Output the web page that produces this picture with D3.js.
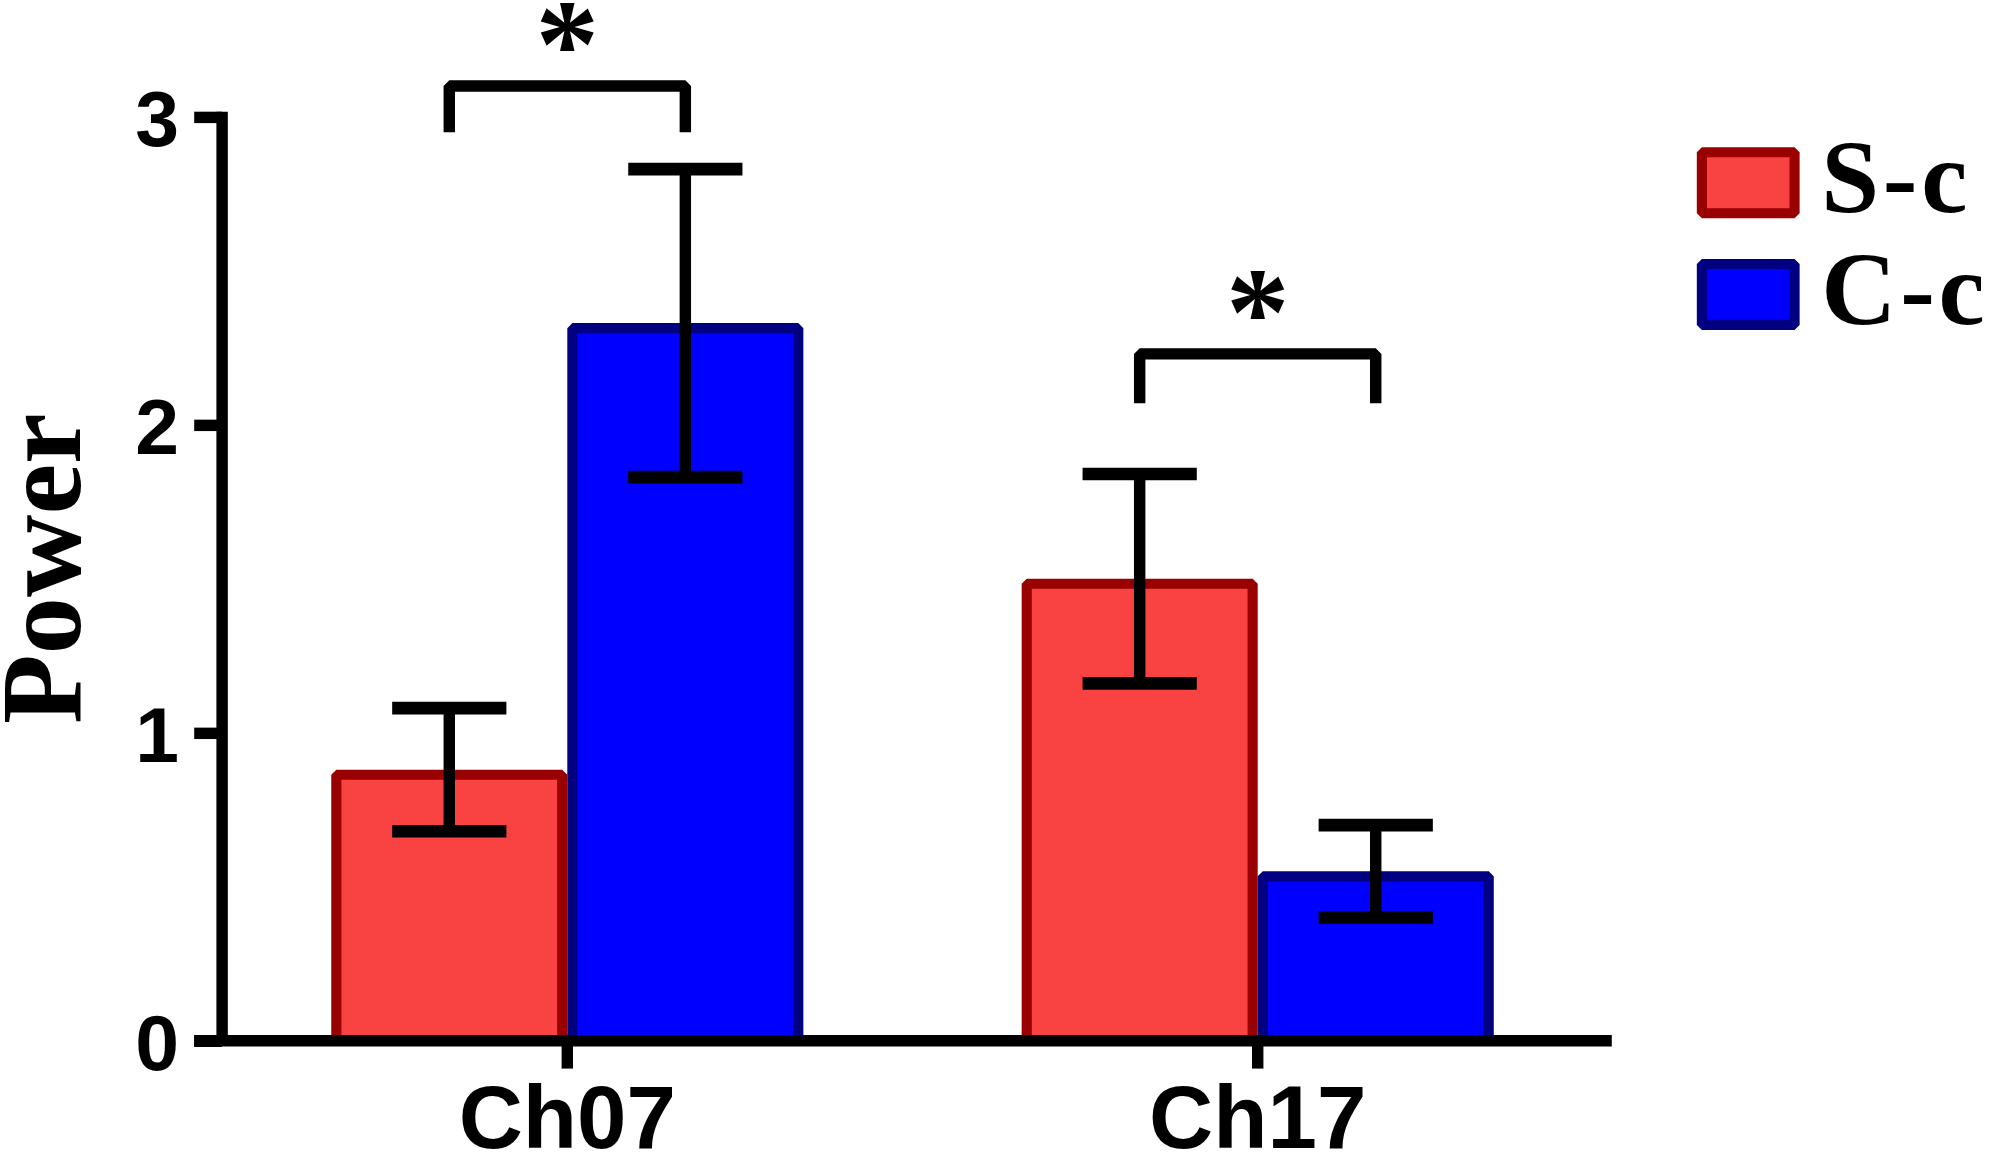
<!DOCTYPE html>
<html>
<head>
<meta charset="utf-8">
<script src="https://cdn.jsdelivr.net/npm/d3@7"></script>
<style>
  body { margin: 0; background: #fff; }
  svg { display: block; }
</style>
</head>
<body>
<div id="chart"></div>
<script>
const categories = ["Ch07", "Ch17"];
const series = ["S-c", "C-c"];
const sc = [0.88, 1.50];
const cc = [2.33, 0.55];
const scErr = [0.20, 0.34];
const ccErr = [0.50, 0.15];
const yTicks = [0, 1, 2, 3];
// significance brackets: category, bracket height, leg bottom
const sigCats = ["Ch07", "Ch17"];
const sigTop = [3.10, 2.23];
const sigLeg = [2.95, 2.07];
const sigLabel = ["*", "*"];

const fills = { "S-c": "#f94343", "C-c": "#0000ff" };
const strokes = { "S-c": "#990000", "C-c": "#000080" };

const W = 1568, H = 915.6;
const svg = d3.select("#chart").append("svg")
  .attr("width", 1990)
  .attr("height", 1162)
  .attr("viewBox", `0 0 ${W} ${H}`);

const y = d3.scaleLinear().domain([0, 3]).range([820, 92]);
const x0 = d3.scaleBand().domain(categories).range([175, 1263]);
const barW = 186;
const x1 = d3.scaleBand().domain(series).range([-barW, barW]);

const rows = [];
categories.forEach((c, i) => {
  rows.push({ cat: c, s: "S-c", v: sc[i], e: scErr[i] });
  rows.push({ cat: c, s: "C-c", v: cc[i], e: ccErr[i] });
});
const cx = (d) => x0(d.cat) + x0.bandwidth() / 2 + x1(d.s) + x1.bandwidth() / 2;

// bars
const sw = 8;
svg.append("g").selectAll("rect")
  .data(rows)
  .enter()
  .append("rect")
  .attr("x", (d) => x0(d.cat) + x0.bandwidth() / 2 + x1(d.s) + sw / 2)
  .attr("y", (d) => y(d.v) + sw / 2)
  .attr("width", x1.bandwidth() - sw)
  .attr("height", (d) => y(0) - y(d.v) - sw / 2)
  .attr("fill", (d) => fills[d.s])
  .attr("stroke", (d) => strokes[d.s])
  .attr("stroke-width", sw)
  .attr("stroke-linejoin", "bevel");

// error bars
const eb = svg.append("g").attr("stroke", "#000");
eb.selectAll(".whisker")
  .data(rows)
  .enter()
  .append("line")
  .attr("x1", cx).attr("x2", cx)
  .attr("y1", (d) => y(d.v + d.e))
  .attr("y2", (d) => y(d.v - d.e))
  .attr("stroke-width", 9);
eb.selectAll(".cap")
  .data(rows.flatMap((d) => [{ d, v: d.v + d.e }, { d, v: d.v - d.e }]))
  .enter()
  .append("line")
  .attr("x1", (o) => cx(o.d) - 45).attr("x2", (o) => cx(o.d) + 45)
  .attr("y1", (o) => y(o.v)).attr("y2", (o) => y(o.v))
  .attr("stroke-width", 10);

// y axis
const yAxis = svg.append("g")
  .attr("transform", "translate(175,0)")
  .call(d3.axisLeft(y).tickValues(yTicks).tickSize(22).tickSizeOuter(0).tickPadding(12).tickFormat(d3.format("d")));
yAxis.select(".domain").attr("stroke", "#000").attr("stroke-width", 9).attr("d", "M0,88V824");
yAxis.selectAll(".tick line").attr("stroke", "#000").attr("stroke-width", 9);
yAxis.selectAll(".tick text")
  .attr("font-family", "'Liberation Sans', Arial, sans-serif")
  .attr("font-weight", "bold")
  .attr("font-size", 62)
  .attr("fill", "#000")
  .attr("dy", "0.36em");

// x axis
svg.append("line")
  .attr("x1", 153).attr("x2", 1270)
  .attr("y1", y(0)).attr("y2", y(0))
  .attr("stroke", "#000").attr("stroke-width", 9);
const xAxis = svg.append("g")
  .attr("transform", `translate(0,${y(0)})`)
  .call(d3.axisBottom(x0).tickSize(22).tickSizeOuter(0).tickPadding(13));
xAxis.select(".domain").remove();
xAxis.selectAll(".tick line").attr("stroke", "#000").attr("stroke-width", 9);
xAxis.selectAll(".tick text")
  .attr("font-family", "'Liberation Sans', Arial, sans-serif")
  .attr("font-weight", "bold")
  .attr("font-size", 70)
  .attr("fill", "#000");

// y title
svg.append("text")
  .attr("transform", "translate(63,448) rotate(-90)")
  .attr("text-anchor", "middle")
  .attr("font-family", "'Liberation Serif', 'Times New Roman', serif")
  .attr("font-weight", "bold")
  .attr("font-size", 90)
  .text("Power");

// significance brackets
const sig = svg.append("g");
sigCats.forEach((c, i) => {
  const a = cx({ cat: c, s: "S-c" });
  const b = cx({ cat: c, s: "C-c" });
  sig.append("path")
    .attr("d", `M${a},${y(sigLeg[i])}V${y(sigTop[i])}H${b}V${y(sigLeg[i])}`)
    .attr("fill", "none")
    .attr("stroke", "#000")
    .attr("stroke-width", 9)
    .attr("stroke-linejoin", "bevel");
  sig.append("text")
    .attr("x", (a + b) / 2)
    .attr("y", y(sigTop[i]) + 1)
    .attr("text-anchor", "middle")
    .attr("font-family", "'Liberation Serif', 'Times New Roman', serif")
    .attr("font-weight", "bold")
    .attr("font-size", 100)
    .text(sigLabel[i]);
});

// legend
const legend = svg.append("g").attr("transform", "translate(1337,116)");
const item = legend.selectAll("g")
  .data(series)
  .enter()
  .append("g")
  .attr("transform", (d, i) => `translate(0,${i * 88})`);
item.append("rect")
  .attr("x", 4).attr("y", 4)
  .attr("width", 73).attr("height", 48)
  .attr("fill", (d) => fills[d])
  .attr("stroke", (d) => strokes[d])
  .attr("stroke-width", sw)
  .attr("stroke-linejoin", "bevel");
item.append("text")
  .attr("x", 98).attr("y", 51)
  .attr("font-family", "'Liberation Serif', 'Times New Roman', serif")
  .attr("font-weight", "bold")
  .attr("font-size", 82)
  .attr("letter-spacing", 3)
  .text((d) => d);
</script>
</body>
</html>
